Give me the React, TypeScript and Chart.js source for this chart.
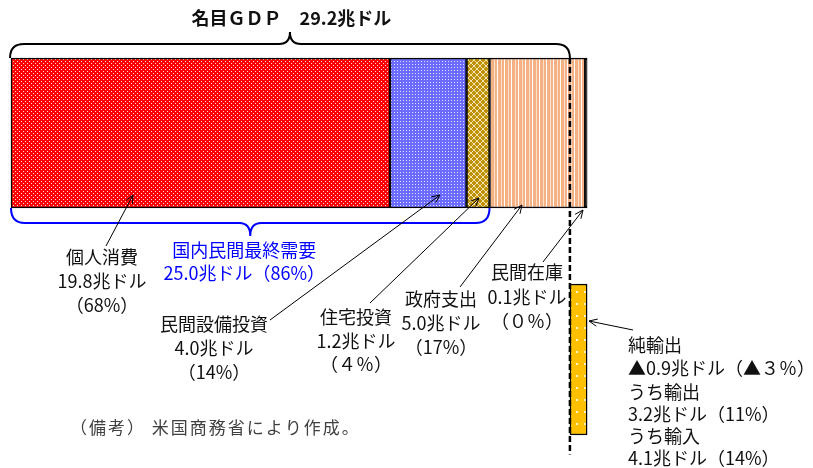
import React, { useEffect, useRef } from 'react';
import { Chart, registerables } from 'chart.js';

Chart.register(...registerables);

// ---------- data ----------
const componentNames = ['個人消費', '民間設備投資', '住宅投資', '政府支出', '民間在庫'];
const componentValues = [19.8, 4.0, 1.2, 5.0, 0.1]; // 兆ドル
const componentShares = [68, 14, 4, 17, 0]; // %
const gdpTotal = 29.2;
const domesticDemandValue = 25.0;
const domesticDemandShare = 86;
const netExportsValue = -0.9;
const netExportsShare = -3;
const exportsValue = 3.2;
const exportsShare = 11;
const importsValue = 4.1;
const importsShare = 14;
const rowPositions = [0, 1]; // row 0: GDP components, row 1: net exports
const noteText = '（備考） 米国商務省により作成。';

// ---------- helpers ----------
const FW = '０１２３４５６７８９';
const pct = (v: number) => {
  const neg = v < 0 ? '▲' : '';
  const a = Math.abs(v);
  return a < 10 ? `（${neg}${FW[a]}％）` : `（${neg}${a}%）`;
};
const amt = (v: number) => (v < 0 ? '▲' : '') + Math.abs(v).toFixed(1) + '兆ドル';

const FONT = '"Noto Sans CJK JP", "Noto Sans CJK SC", sans-serif';

function makePattern(w: number, h: number, draw: (g: CanvasRenderingContext2D) => void) {
  const c = document.createElement('canvas');
  c.width = w;
  c.height = h;
  const g = c.getContext('2d')!;
  draw(g);
  return g.createPattern(c, 'repeat')!;
}

function drawArrow(ctx: CanvasRenderingContext2D, x1: number, y1: number, x2: number, y2: number) {
  ctx.save();
  ctx.strokeStyle = '#000';
  ctx.lineWidth = 1;
  ctx.beginPath();
  ctx.moveTo(x1, y1);
  ctx.lineTo(x2, y2);
  const a = Math.atan2(y2 - y1, x2 - x1);
  const len = 9;
  const s = 0.42;
  ctx.moveTo(x2 - len * Math.cos(a - s), y2 - len * Math.sin(a - s));
  ctx.lineTo(x2, y2);
  ctx.lineTo(x2 - len * Math.cos(a + s), y2 - len * Math.sin(a + s));
  ctx.stroke();
  ctx.restore();
}

function drawBrace(
  ctx: CanvasRenderingContext2D,
  x0: number,
  x1: number,
  yBase: number,
  yLine: number,
  yTip: number,
  color: string
) {
  const r = 14;
  const rc = 11;
  const xc = (x0 + x1) / 2;
  ctx.save();
  ctx.strokeStyle = color;
  ctx.lineWidth = 2;
  ctx.beginPath();
  ctx.moveTo(x0, yBase);
  ctx.quadraticCurveTo(x0, yLine, x0 + r, yLine);
  ctx.lineTo(xc - rc, yLine);
  ctx.quadraticCurveTo(xc, yLine, xc, yTip);
  ctx.quadraticCurveTo(xc, yLine, xc + rc, yLine);
  ctx.lineTo(x1 - r, yLine);
  ctx.quadraticCurveTo(x1, yLine, x1, yBase);
  ctx.stroke();
  ctx.restore();
}

function textLines(
  ctx: CanvasRenderingContext2D,
  lines: string[],
  x: number,
  ys: number[],
  align: CanvasTextAlign,
  color = '#111',
  size = 18,
  spacing = '0px'
) {
  ctx.save();
  ctx.font = `${size}px ${FONT}`;
  (ctx as any).letterSpacing = spacing;
  ctx.fillStyle = color;
  ctx.textAlign = align;
  ctx.textBaseline = 'middle';
  lines.forEach((l, i) => ctx.fillText(l, x, ys[i]));
  ctx.restore();
}

// label layout (pixel positions of the annotation text blocks)
const labelLayout = [
  { x: 102, ys: [257, 281, 305], from: [106, 246], to: [133, 195] },
  { x: 214, ys: [324, 348, 372], from: [270, 320], to: [440, 195] },
  { x: 356, ys: [317, 341, 364], from: [370, 303], to: [479, 198] },
  { x: 441, ys: [299, 323, 347], from: [460, 287], to: [522, 205] },
  { x: 527, ys: [272, 297, 321], from: [543, 262], to: [583, 210] },
];

const annotationPlugin = {
  id: 'gdpAnnotations',
  afterDatasetsDraw(chart: any) {
    const ctx: CanvasRenderingContext2D = chart.ctx;
    const xs = chart.scales.x;
    const ys = chart.scales.y;
    const meta0 = chart.getDatasetMeta(0).data[0];
    const barTop = meta0.y - meta0.height / 2;
    const barBottom = meta0.y + meta0.height / 2;
    const x0 = xs.getPixelForValue(0);
    const xGdp = xs.getPixelForValue(gdpTotal);
    const xDom = xs.getPixelForValue(domesticDemandValue);

    // top brace (GDP)
    drawBrace(ctx, x0 - 1, xGdp, barTop, barTop - 14, barTop - 26, '#000');
    // bottom brace (domestic private final demand)
    drawBrace(ctx, x0, xDom, barBottom, barBottom + 15, barBottom + 28, '#0000FF');

    // dashed line at GDP total
    ctx.save();
    ctx.strokeStyle = '#000';
    ctx.lineWidth = 2.5;
    ctx.setLineDash([6, 3]);
    ctx.beginPath();
    ctx.moveTo(xGdp, barTop);
    ctx.lineTo(xGdp, ys.getPixelForValue(1) + 95);
    ctx.stroke();
    ctx.restore();

    // title
    ctx.save();
    ctx.font = `bold 18px ${FONT}`;
    ctx.fillStyle = '#111';
    ctx.textAlign = 'center';
    ctx.textBaseline = 'middle';
    ctx.fillText('名目ＧＤＰ　' + gdpTotal.toFixed(1) + '兆ドル', (x0 + xGdp) / 2 + 1, 18);
    ctx.restore();

    // component labels + arrows
    componentNames.forEach((name, i) => {
      const L = labelLayout[i];
      textLines(ctx, [name, amt(componentValues[i]), pct(componentShares[i])], L.x, L.ys, 'center');
      drawArrow(ctx, L.from[0], L.from[1], L.to[0], L.to[1]);
    });

    // domestic private final demand (blue)
    textLines(
      ctx,
      ['国内民間最終需要', amt(domesticDemandValue) + pct(domesticDemandShare)],
      (x0 + xDom) / 2 - 6,
      [250, 273],
      'center',
      '#0000FF'
    );

    // net exports
    textLines(
      ctx,
      [
        '純輸出',
        amt(netExportsValue) + pct(netExportsShare),
        'うち輸出',
        amt(exportsValue) + pct(exportsShare),
        'うち輸入',
        amt(importsValue) + pct(importsShare),
      ],
      628,
      [345, 368, 392, 414, 436, 458],
      'left'
    );
    drawArrow(ctx, 633, 330, 589, 321);

    // note
    textLines(ctx, [noteText], 70, [428], 'left', '#404040', 17, '2px');
  },
};

export default function App() {
  const ref = useRef<HTMLCanvasElement | null>(null);

  useEffect(() => {
    if (!ref.current) return;

    const patterns = [
      makePattern(4, 4, (g) => {
        g.fillStyle = '#FF0000';
        g.fillRect(0, 0, 4, 4);
        g.fillStyle = '#FFD8D8';
        g.fillRect(1, 1, 1, 1);
        g.fillRect(3, 3, 1, 1);
      }),
      makePattern(3, 3, (g) => {
        g.fillStyle = '#6B6BFF';
        g.fillRect(0, 0, 3, 3);
        g.fillStyle = '#E4E4FF';
        g.fillRect(1, 1, 1, 1);
      }),
      makePattern(6, 6, (g) => {
        g.fillStyle = '#BF9000';
        g.fillRect(0, 0, 6, 6);
        g.fillStyle = '#F3E3AE';
        for (let i = 0; i < 6; i++) {
          g.fillRect(i, i, 1, 1);
          g.fillRect(5 - i, i, 1, 1);
        }
      }),
      makePattern(7, 1, (g) => {
        g.fillStyle = '#F4B183';
        g.fillRect(0, 0, 7, 1);
        g.fillStyle = '#FFFFFF';
        g.fillRect(0, 0, 1, 1);
        g.fillStyle = '#FBE0CC';
        g.fillRect(4, 0, 1, 1);
      }),
      '#000000',
    ];
    const netPattern = makePattern(8, 12, (g) => {
      g.fillStyle = '#FFC000';
      g.fillRect(0, 0, 8, 12);
      g.fillStyle = '#FFF4D0';
      g.fillRect(0, 3, 2, 2);
    });

    // floating bars built from cumulative component values
    let cum = 0;
    const datasets: any[] = componentNames.map((name, i) => {
      const start = cum;
      cum += componentValues[i];
      return {
        label: name,
        data: [{ x: [start, cum], y: rowPositions[0] }],
        backgroundColor: patterns[i],
        borderColor: '#000',
        borderWidth: 1.5,
        borderSkipped: false,
        barThickness: 150,
        grouped: false,
      };
    });
    const totalDemand = cum;
    datasets.push({
      label: '純輸出',
      data: [{ x: [totalDemand + netExportsValue, totalDemand], y: rowPositions[1] }],
      backgroundColor: netPattern,
      borderColor: '#000',
      borderWidth: 1.5,
      borderSkipped: false,
      barThickness: 151,
      grouped: false,
    });

    const chart = new Chart(ref.current, {
      type: 'bar',
      data: { datasets },
      options: {
        indexAxis: 'y',
        animation: false,
        responsive: false,
        layout: { padding: 0 },
        scales: {
          x: { type: 'linear', min: -0.575, max: 41.9, display: false, offset: false },
          y: { type: 'linear', min: -0.5872, max: 1.479, reverse: true, display: false, offset: false },
        },
        plugins: {
          legend: { display: false },
          tooltip: { enabled: false },
          title: { display: false },
        },
      },
      plugins: [annotationPlugin],
    } as any);

    return () => chart.destroy();
  }, []);

  return (
    <div style={{ position: 'fixed', left: 0, top: 0, width: 813, height: 468, background: '#fff' }}>
      <canvas ref={ref} width={813} height={468} style={{ display: 'block' }} />
    </div>
  );
}
